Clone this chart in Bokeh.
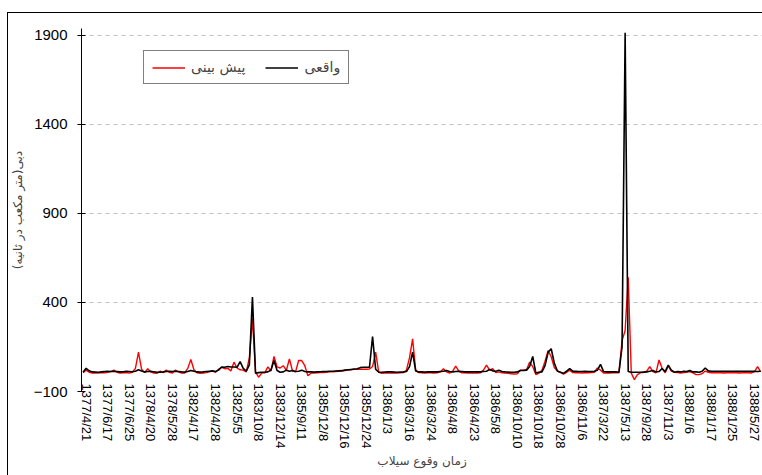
from bokeh.plotting import figure
from bokeh.models import FixedTicker, Legend, LegendItem, Range1d, InlineStyleSheet
from bokeh.embed import file_html
from bokeh.resources import INLINE

# ---- data ----
tick_labels = [
    "1377/4/21", "1377/6/17", "1377/6/25", "1378/4/20", "1378/5/28", "1382/4/17",
    "1382/4/28", "1382/5/5", "1383/10/8", "1383/12/14", "1385/9/11", "1385/12/8",
    "1385/12/16", "1385/12/24", "1386/1/3", "1386/3/16", "1386/3/24", "1386/4/8",
    "1386/4/23", "1386/5/8", "1386/10/10", "1386/10/18", "1386/10/28", "1386/11/6",
    "1387/3/22", "1387/5/13", "1387/9/28", "1387/11/3", "1388/1/6", "1388/1/17",
    "1388/1/25", "1388/5/27",
]

actual = [
    8, 30, 16, 10, 9, 8, 10, 12, 13, 12,
    14, 12, 10, 11, 13, 12, 11, 14, 22, 15,
    10, 12, 14, 10, 8, 9, 10, 12, 14, 12,
    14, 12, 10, 9, 12, 18, 14, 10, 9, 10,
    12, 14, 16, 12, 20, 38, 36, 40, 38, 38,
    36, 68, 30, 14, 50, 430, 2, 6, 8, 8,
    10, 20, 74, 18, 8, 10, 20, 14, 18, 12,
    14, 20, 12, 10, 10, 9, 10, 11, 12, 12,
    14, 14, 15, 16, 17, 20, 22, 24, 26, 28,
    34, 36, 36, 36, 209, 25, 8, 8, 9, 10,
    10, 9, 8, 9, 10, 12, 40, 121, 15, 10,
    10, 9, 10, 10, 11, 10, 12, 14, 18, 12,
    10, 12, 14, 12, 10, 10, 11, 10, 10, 10,
    12, 14, 24, 16, 14, 20, 12, 10, 9, 8,
    8, 10, 18, 18, 20, 40, 97, 4, 8, 10,
    45, 120, 140, 60, 15, 8, 2, 15, 28, 14,
    13, 12, 12, 13, 12, 12, 14, 20, 52, 12,
    10, 10, 11, 10, 8, 150, 1915, 12, 8, 8,
    8, 8, 9, 10, 14, 18, 10, 12, 29, 12,
    48, 20, 8, 12, 10, 14, 12, 18, 10, 10,
    8, 14, 32, 16, 14, 14, 14, 14, 13, 14,
    14, 14, 14, 13, 14, 14, 14, 13, 14, 12, 14,
]

predicted = [
    6, 20, 8, 4, 3, 4, 6, 5, 8, 12,
    20, 8, 4, 5, 6, 4, 8, 30, 121, 25,
    6, 28, 10, 3, 2, 14, 6, 20, 8, 4,
    20, 10, 3, 4, 30, 80, 22, 5, 2, 4,
    6, 10, 16, 8, 25, 35, 28, 30, 15, 65,
    32, 22, 20, 10, 90, 308, 10, -20, 3, 5,
    38, 15, 97, 38, 32, 45, 18, 83, 15, 10,
    74, 74, 45, -12, 3, 4, 5, 6, 7, 8,
    10, 10, 12, 14, 15, 18, 20, 22, 24, 24,
    24, 25, 25, 26, 40, 121, 8, 2, 3, 4,
    4, 3, 4, 5, 6, 20, 90, 196, 20, 6,
    5, 4, 5, 5, 4, 5, 10, 28, 10, 3,
    14, 42, 15, 5, 5, 4, 4, 3, 4, 5,
    20, 48, 20, 28, 6, 10, 5, 3, 2, 0,
    -2, 0, 20, 20, 22, 65, 40, -5, 3, 20,
    70, 130, 95, 35, 15, 8, -2, 8, 20, 6,
    5, 5, 4, 5, 5, 6, 8, 32, 20, 4,
    4, 4, 5, 6, 5, 186, 243, 542, 3, -33,
    -5, 6, 7, 15, 40, 12, 5, 77, 30, 5,
    44, 15, 8, 6, 4, 6, 8, 12, 4, -5,
    -5, 0, 15, 8, 5, 5, 6, 5, 4, 5,
    5, 5, 5, 4, 5, 6, 5, 4, 12, 40, 10,
]

y_ticks = [-100, 400, 900, 1400, 1900]
label_step = 7
label_offset = 1

x = list(range(len(actual)))
tick_pos = [label_offset + label_step * i for i in range(len(tick_labels))]

W, H = 762, 475
ML, MT, MB = 81, 28, 84
FH = H - MT - MB

frame_css = InlineStyleSheet(css="""
:host { position: relative; }
:host::after {
  content: ""; position: absolute; left: 7px; top: 12px; right: 0; bottom: 0;
  border-top: 1px solid #000; border-left: 1px solid #000;
  pointer-events: none; z-index: 10;
}
""")

p = figure(
    width=W, height=H,
    output_backend="svg", toolbar_location=None,
    x_range=Range1d(-0.5, 220.6), y_range=Range1d(-100, 1939),
    min_border_left=ML, min_border_right=0, min_border_top=MT, min_border_bottom=MB,
    stylesheets=[frame_css],
)
p.outline_line_color = None
p.background_fill_color = "white"
p.border_fill_color = "white"

r_pred = p.line(x, predicted, line_color="#ff0000", line_width=1.4)
r_act = p.line(x, actual, line_color="#000000", line_width=1.6)

# y axis
p.yaxis.ticker = FixedTicker(ticks=y_ticks)
p.yaxis.major_label_text_font = "Liberation Sans"
p.yaxis.major_label_text_font_size = "15px"
p.yaxis.major_label_text_color = "black"
p.yaxis.major_tick_in = 4
p.yaxis.major_tick_out = 4
p.yaxis.minor_tick_line_color = None
p.yaxis.axis_line_color = "black"
p.yaxis.major_tick_line_color = "black"
p.yaxis.major_label_standoff = 10
p.yaxis.axis_label = "دبی(متر مکعب در ثانیه)"
p.yaxis.axis_label_text_font = "DejaVu Sans"
p.yaxis.axis_label_text_font_size = "12px"
p.yaxis.axis_label_text_font_style = "normal"
p.yaxis.axis_label_standoff = 6

# x axis
p.xaxis.ticker = FixedTicker(ticks=tick_pos)
p.xaxis.major_label_overrides = {t: lab for t, lab in zip(tick_pos, tick_labels)}
p.xaxis.major_label_orientation = -1.5707963267948966
p.xaxis.major_label_text_font = "Liberation Sans"
p.xaxis.major_label_text_font_size = "13px"
p.xaxis.major_label_text_color = "black"
p.xaxis.axis_line_color = None
p.xaxis.major_tick_line_color = None
p.xaxis.minor_tick_line_color = None
p.xaxis.major_tick_in = 0
p.xaxis.major_tick_out = 0
p.xaxis.major_label_standoff = -8
p.xaxis.axis_label = "زمان وقوع سیلاب"
p.xaxis.axis_label_text_font = "DejaVu Sans"
p.xaxis.axis_label_text_font_size = "12px"
p.xaxis.axis_label_text_font_style = "normal"
p.xaxis.axis_label_standoff = 2

# grid
p.xgrid.grid_line_color = None
p.ygrid.ticker = FixedTicker(ticks=y_ticks)
p.ygrid.grid_line_color = "#bfbfbf"
p.ygrid.grid_line_dash = "4 4"
p.ygrid.grid_line_width = 1

legend = Legend(
    items=[LegendItem(label="پیش بینی", renderers=[r_pred]),
           LegendItem(label="واقعی", renderers=[r_act])],
    orientation="horizontal",
    location=(62, FH - 25 - 31),
    label_text_font="DejaVu Sans",
    label_text_font_size="14px",
    border_line_color="black",
    border_line_width=1,
    background_fill_color="white",
    background_fill_alpha=1,
    padding=8,
    spacing=20,
    glyph_width=33,
    glyph_height=15,
    label_height=15,
    label_standoff=6,
    margin=0,
)
p.add_layout(legend)

open("out.html", "w").write(file_html(p, INLINE))
